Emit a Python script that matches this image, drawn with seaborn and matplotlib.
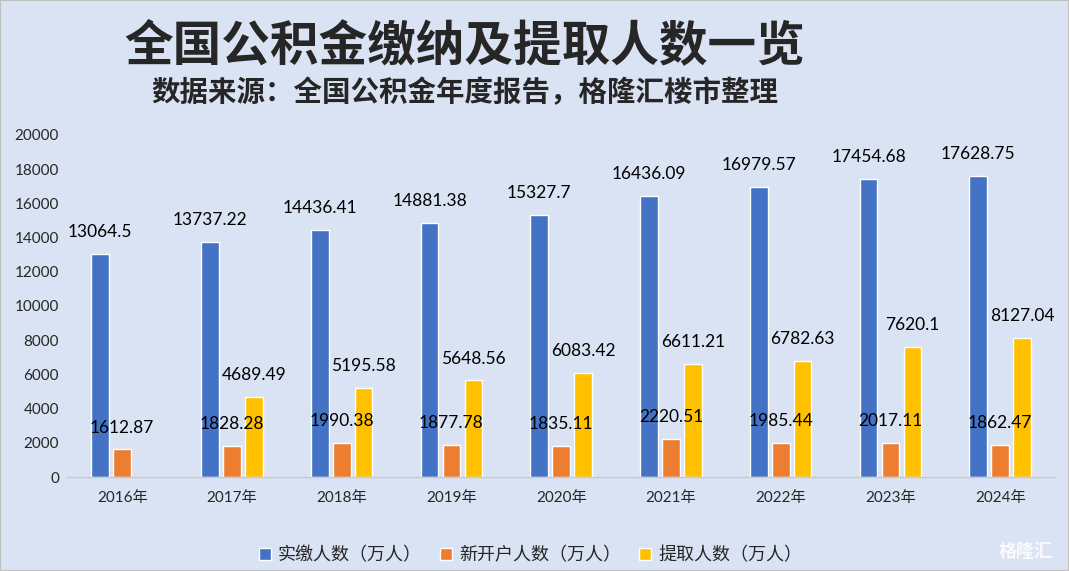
import pandas as pd
import numpy as np
import matplotlib
matplotlib.use('Agg')
import matplotlib.pyplot as plt
import seaborn as sns

# ── Data ───────────────────────────────────────────────────────────────────────
years = ['2016年', '2017年', '2018年', '2019年', '2020年', '2021年', '2022年', '2023年', '2024年']
paid = [13064.5, 13737.22, 14436.41, 14881.38, 15327.7, 16436.09, 16979.57, 17454.68, 17628.75]
new_acc = [1612.87, 1828.28, 1990.38, 1877.78, 1835.11, 2220.51, 1985.44, 2017.11, 1862.47]
withdraw = [np.nan, 4689.49, 5195.58, 5648.56, 6083.42, 6611.21, 6782.63, 7620.1, 8127.04]
series = ['实缴人数（万人）', '新开户人数（万人）', '提取人数（万人）']

BLUE, ORANGE, GOLD = '#4472C4', '#ED7D31', '#FFC000'
BG = '#DAE3F3'

df = pd.DataFrame({'year': years, series[0]: paid, series[1]: new_acc, series[2]: withdraw})
long = df.melt(id_vars='year', var_name='series', value_name='value').dropna()

# ── Style ──────────────────────────────────────────────────────────────────────
sns.set_theme(style='white')
plt.rcParams['font.family'] = ['Lato', 'Noto Sans CJK SC', 'DejaVu Sans']

fig = plt.figure(figsize=(10.69, 5.71), dpi=100, facecolor=BG)
fig.patches.append(plt.Rectangle((0, 0), 1, 1, transform=fig.transFigure,
                                 fill=False, edgecolor='#BFBFBF', linewidth=1.5))
ax = fig.add_axes([0.063, 0.1646, 0.924, 0.599])
ax.set_facecolor(BG)

sns.barplot(data=long, x='year', y='value', hue='series', hue_order=series,
            order=years, palette=[BLUE, ORANGE, GOLD], width=0.6, gap=0.2,
            saturation=1, ax=ax, legend=True)

def fmt(v):
    return f'{v:.2f}'.rstrip('0').rstrip('.')

for cont in ax.containers:
    ax.bar_label(cont, labels=[fmt(b.get_height()) for b in cont],
                 padding=10, fontsize=12.5, color='black')

ax.set_ylim(0, 20000)
ax.set_yticks(range(0, 20001, 2000))
ax.set_xlim(-0.5, len(years) - 0.5)
ax.set_xlabel('')
ax.set_ylabel('')
ax.tick_params(axis='y', labelsize=11, length=0, pad=6)
ax.tick_params(axis='x', labelsize=11, length=0, pad=10)
for s in ['top', 'right', 'left']:
    ax.spines[s].set_visible(False)
ax.spines['bottom'].set_color('#C8C8C8')
ax.spines['bottom'].set_linewidth(1)

ax.legend(loc='upper center', bbox_to_anchor=(0.469, -0.155), ncol=3, frameon=False,
          fontsize=13, handlelength=0.65, handleheight=0.65, handletextpad=0.4,
          columnspacing=1.0)

fig.text(0.435, 0.92, '全国公积金缴纳及提取人数一览', ha='center', va='center',
         fontsize=35, fontweight='bold', family=['Noto Sans CJK SC'])
fig.text(0.435, 0.837, '数据来源：全国公积金年度报告，格隆汇楼市整理', ha='center', va='center',
         fontsize=20.5, fontweight='bold', family=['Noto Sans CJK SC'])
fig.text(0.985, 0.035, '格隆汇', ha='right', va='center', fontsize=13,
         color='white', fontweight='bold', family=['Noto Sans CJK SC'], alpha=0.85)

fig.savefig('out.png', dpi=100, facecolor=BG)
